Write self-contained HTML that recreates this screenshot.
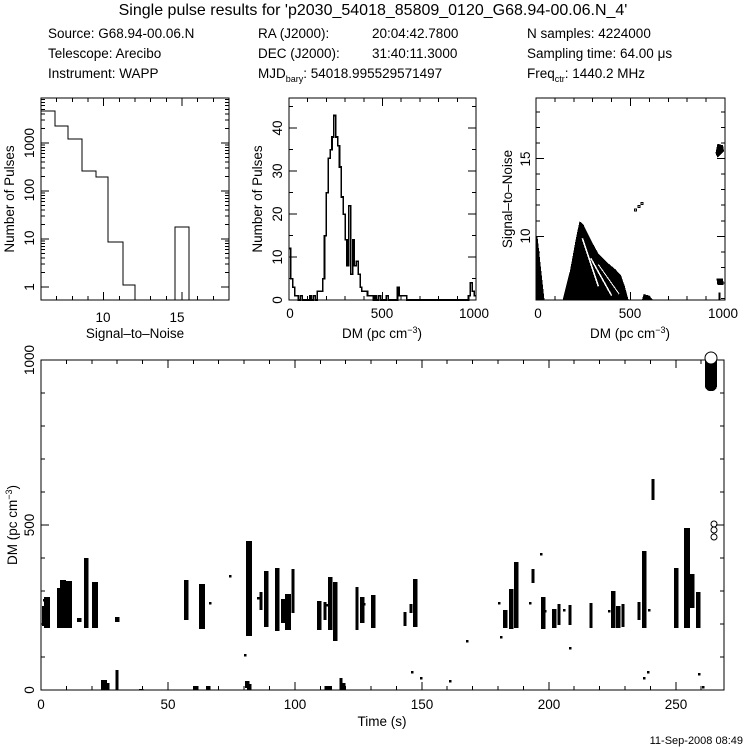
<!DOCTYPE html>
<html><head><meta charset="utf-8"><style>
html,body{margin:0;padding:0;background:#fff;}
svg{display:block;font-family:"Liberation Sans",sans-serif;}
text{fill:#000;}
</style></head><body>
<svg id="s" width="746" height="747" viewBox="0 0 746 747" xmlns="http://www.w3.org/2000/svg">
<rect width="746" height="747" fill="#fff"/>
<text x="373" y="15" font-size="16" text-anchor="middle">Single pulse results for 'p2030_54018_85809_0120_G68.94-00.06.N_4'</text>
<g font-size="13.5">
<text x="48" y="38">Source: G68.94-00.06.N</text>
<text x="48" y="58">Telescope: Arecibo</text>
<text x="48" y="78">Instrument: WAPP</text>
<text x="258" y="38">RA (J2000):</text><text x="372" y="38">20:04:42.7800</text>
<text x="258" y="58">DEC (J2000):</text><text x="372" y="58">31:40:11.3000</text>
<text x="258" y="78">MJD<tspan font-size="9" dy="4">bary</tspan><tspan dy="-4">: 54018.995529571497</tspan></text>
<text x="527" y="38">N samples: 4224000</text>
<text x="527" y="58">Sampling time: 64.00 μs</text>
<text x="527" y="78">Freq<tspan font-size="9" dy="4">ctr</tspan><tspan dy="-4">: 1440.2 MHz</tspan></text>
</g>
<g id="g" stroke="#000" fill="none" shape-rendering="crispEdges"></g>
<g id="t" font-size="13.5"></g>
</svg>
<script>
var g=document.getElementById('g'),T=document.getElementById('t'),NS='http://www.w3.org/2000/svg';
function el(p,n,a,txt){var e=document.createElementNS(NS,n);for(var k in a)e.setAttribute(k,a[k]);if(txt!=null)e.textContent=txt;p.appendChild(e);return e;}
function L(x1,y1,x2,y2){el(g,'line',{x1:x1,y1:y1,x2:x2,y2:y2});}
function box(x0,y0,x1,y1){el(g,'rect',{x:x0,y:y0,width:x1-x0,height:y1-y0});}
function txt(x,y,s,anc,rot){var a={x:x,y:y,'text-anchor':anc||'middle'};if(rot)a.transform='rotate(-90 '+x+' '+y+')';return el(T,'text',a,s);}
function xt(x0,x1,y0,y1,v0,v1,mi,ma,ml,Ml){for(var v=Math.ceil(v0/mi)*mi;v<=v1+1e-9;v+=mi){var x=x0+(v-v0)/(v1-v0)*(x1-x0);var M=Math.abs(v/ma-Math.round(v/ma))<1e-6;var l=M?Ml:ml;L(x,y1,x,y1-l);L(x,y0,x,y0+l);}}
function yt(x0,x1,y0,y1,v0,v1,mi,ma,ml,Ml){for(var v=Math.ceil(v0/mi)*mi;v<=v1+1e-9;v+=mi){var y=y1-(v-v0)/(v1-v0)*(y1-y0);var M=Math.abs(v/ma-Math.round(v/ma))<1e-6;var l=M?Ml:ml;L(x0,y,x0+l,y);L(x1,y,x1-l,y);}}
// Panel 1
box(41,98,229,300);
(function(){xt(41,229,98,300,6,18,1,5,4,8);
function ly(v){return 287-Math.log10(v)*48;}
for(var d=0;d<4;d++)for(var m=1;m<10;m++){var y=ly(m*Math.pow(10,d));if(y<98||y>300)continue;var l=m==1?8:4;L(41,y,41+l,y);L(229,y,229-l,y);}
el(g,'polyline',{points:'41,111 55,111 55,126 68,126 68,139 82,139 82,171 96,171 96,177 108,177 108,242 123,242 123,285 135,285 135,300'});
el(g,'polyline',{points:'175,300 175,227 189,227 189,300'});
txt(103,322,'10');txt(177,322,'15');
txt(34,287,'1',null,1);txt(34,238,'10',null,1);txt(34,190,'100',null,1);txt(34,143,'1000',null,1);
txt(14,199,'Number of Pulses',null,1);txt(135,338,'Signal\u2013to\u2013Noise');})();
// Panel 2
box(289,98,476,300);
(function(){xt(289,476,98,300,0,1000,100,500,4,8);yt(289,476,98,300,0,47,5,10,4,8);
var c={0:12,1:5,2:3,3:1,4:1,5:0,6:1,11:1,13:1,15:2,16:2,17:2,18:5,19:15,20:25,21:33,22:35,23:38,24:43,25:38,26:36,27:31,28:24,29:20,30:14,31:8,32:22,33:6,34:14,35:8,36:9,37:6,38:3,39:2,40:2,41:2,42:1,43:1,44:1,46:1,48:1,52:1,58:3,59:1,60:1,61:1,62:1,96:1,97:4,98:2,99:1};
var p='';for(var i=0;i<100;i++){var n=c[i]||0;var x0=289+i*1.87,x1=x0+1.87,y=300-n*4.29;p+=x0.toFixed(1)+','+y.toFixed(1)+' '+x1.toFixed(1)+','+y.toFixed(1)+' ';}
el(g,'polyline',{points:p,'stroke-width':1.6});
txt(290,318,'0');txt(382,318,'500');txt(474,318,'1000');
[[300,'0'],[257,'10'],[214,'20'],[171,'30'],[128,'40']].forEach(function(a){txt(282,a[0],a[1],null,1);});
txt(262,199,'Number of Pulses',null,1);
var t=txt(382,338,'DM (pc cm');el(t,'tspan',{dy:-5,'font-size':9},'\u22123');el(t,'tspan',{dy:5},')');})();
// Panel 3
box(536,98,725,300);
(function(){xt(536,725,98,300,0,1000,100,500,4,8);yt(536,725,98,300,5.9,18.9,1,5,4,8);
function X(d){return 536+d*0.189;}function Y(s){return 236.7-(s-10)*15.5;}
function poly(a,f){el(g,'polygon',{points:a.map(function(q){return X(q[0]).toFixed(1)+','+Y(q[1]).toFixed(1)}).join(' '),fill:f,stroke:'none'});}
poly([[140,5.9],[180,7.8],[210,9.8],[230,11.0],[250,10.8],[290,9.8],[330,8.9],[380,8.3],[420,7.9],[450,7.5],[470,6.8],[490,5.9]],'#000');
poly([[0,5.9],[0,10],[8,10],[45,5.9]],'#000');
poly([[560,5.9],[570,6.3],[600,6.2],[620,5.9]],'#000');
el(g,'line',{x1:X(245),y1:Y(9.9),x2:X(330),y2:Y(6.8),stroke:'#fff','stroke-width':1.5});
el(g,'line',{x1:X(290),y1:Y(8.6),x2:X(400),y2:Y(6.2),stroke:'#fff','stroke-width':1.5});
el(g,'line',{x1:X(330),y1:Y(8.2),x2:X(440),y2:Y(6.3),stroke:'#fff','stroke-width':1});
poly([[950,15.4],[960,16.0],[990,15.9],[995,15.5],[960,15.1]],'#000');
poly([[955,7.3],[990,7.3],[992,6.9],[960,6.9]],'#000');
poly([[965,6.4],[975,6.4],[975,5.9],[965,5.9]],'#000');
[[520,11.8],[540,12.0],[555,12.2]].forEach(function(q){el(g,'rect',{x:X(q[0]),y:Y(q[1]),width:2,height:2});});
txt(538,318,'0');txt(630,318,'500');txt(723,318,'1000');
txt(530,236,'10',null,1);txt(530,159,'15',null,1);
txt(512,199,'Signal\u2013to\u2013Noise',null,1);
var t=txt(630,338,'DM (pc cm');el(t,'tspan',{dy:-5,'font-size':9},'\u22123');el(t,'tspan',{dy:5},')');})();
// Bottom plot
box(41,360,724,690);
(function(){xt(41,724,360,690,0,269,10,50,4,8);yt(41,724,360,690,0,1000,100,500,4,8);
var B=[[44,606,626,3],[47,597,628,4],[59,588,628,3],[63,580,628,4],[67,583,628,3],[69,581,628,4],[79,618,622,3],[86,558,628,3],[95,582,628,4],[117,617,622,3],[186,580,620,3],[202,584,629,4],[249,541,636,4],[261,592,610,2],[266,571,627,3],[277,568,631,3],[283,599,623,3],[288,594,630,4],[293,569,613,2],[319,601,630,3],[325,602,620,2],[330,577,630,3],[335,582,641,3],[357,587,630,2],[362,597,623,3],[373,595,628,3],[405,612,626,2],[411,604,613,2],[415,579,627,3],[505,610,628,3],[511,589,629,3],[516,562,628,3],[533,569,583,2],[543,597,629,3],[554,609,628,3],[559,604,625,2],[570,605,625,2],[591,603,628,2],[613,591,628,3],[618,606,628,3],[623,604,627,2],[639,602,620,2],[644,551,628,3],[653,479,500,2],[676,568,628,3],[687,528,628,4],[692,574,608,3],[698,592,628,3],[247,681,688,3],[328,686,690,5],[341,678,690,2],[343,683,690,3],[104,680,690,4],[107,683,690,3],[117,670,690,2],[141,689,690,3],[196,686,690,3],[208,686,690,3],[249,684,690,3]];
B.forEach(function(b){var w=b[3]*1.5;el(g,'rect',{x:b[0]-w/2,y:b[1],width:w,height:b[2]-b[1],fill:'#000',stroke:'none'});});
[[245,655],[467,641],[501,637],[412,672],[421,678],[450,681],[230,576],[541,554],[699,674],[703,687],[570,648],[648,672],[644,678],[44,600],[61,597],[210,603],[258,598],[327,605],[364,604],[499,603],[530,603],[545,611],[564,610],[609,611],[649,610]].forEach(function(q){el(g,'rect',{x:q[0]-1,y:q[1]-1,width:2.5,height:2.5,fill:'#000',stroke:'none'});});
el(g,'rect',{x:705,y:353,width:12,height:38,rx:5,fill:'#000',stroke:'none'});
el(g,'circle',{cx:711,cy:358,r:6,fill:'#fff','shape-rendering':'auto'});
el(g,'circle',{cx:714,cy:524,r:3,'shape-rendering':'auto'});el(g,'circle',{cx:714,cy:530,r:3,'shape-rendering':'auto'});el(g,'circle',{cx:714,cy:537,r:3,'shape-rendering':'auto'});
[[0,41],[50,168],[100,295],[150,422],[200,549],[250,676]].forEach(function(a){txt(a[1],709,String(a[0]));});
txt(34,690,'0',null,1);txt(34,525,'500',null,1);txt(34,360,'1000',null,1);
var t=txt(17,525,'DM (pc cm',null,1);el(t,'tspan',{dy:-5,'font-size':9},'\u22123');el(t,'tspan',{dy:5},')');
txt(382,726,'Time (s)');
el(T,'text',{x:743,y:744,'text-anchor':'end','font-size':11},'11-Sep-2008 08:49');})();
</script>
</body></html>
